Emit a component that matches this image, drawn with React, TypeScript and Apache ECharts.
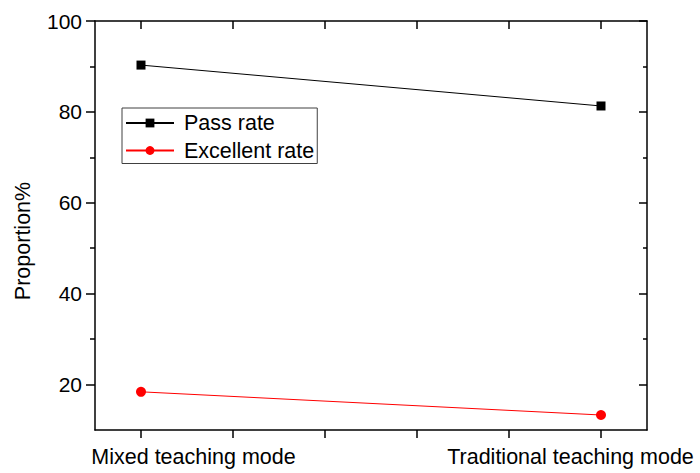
import React, { useEffect, useRef } from "react";
import * as echarts from "echarts";

const categories = ["Mixed teaching mode", "Traditional teaching mode"];
const xPositions = [1, 6];
const passRate = [90.3, 81.3];
const excellentRate = [18.4, 13.3];
const seriesNames = ["Pass rate", "Excellent rate"];
const yMajorTicks = [20, 40, 60, 80, 100];
const yMinorTicks = [30, 50, 70, 90];
const xTicks = [1, 2, 3, 4, 5, 6];
const yAxisTitle = "Proportion%";

const FONT = "'Liberation Sans', Arial, Helvetica, sans-serif";

export default function App() {
  const ref = useRef<HTMLDivElement>(null);
  useEffect(() => {
    if (!ref.current) return;
    const chart = echarts.init(ref.current, null, { renderer: "svg" });
    const lineColor = "#000";
    const axisLine = { show: true, onZero: false, lineStyle: { color: lineColor, width: 1.5 } };
    const yBase = { type: "value", min: 10, max: 100, gridIndex: 0, splitLine: { show: false } };
    const xBase = { type: "value", min: 0.5, max: 6.5, gridIndex: 0, splitLine: { show: false } };
    const option: any = {
      animation: false,
      backgroundColor: "#fff",
      grid: { left: 95, top: 21, width: 552, height: 409, containLabel: false },
      xAxis: [
        {
          ...xBase,
          position: "bottom",
          axisLine,
          axisTick: { show: true, inside: false, length: 8, customValues: xTicks, lineStyle: { color: lineColor, width: 1.5 } },
          axisLabel: {
            show: true,
            customValues: xPositions,
            margin: 16,
            formatter: (v: number) => {
              const i = xPositions.indexOf(v);
              if (i < 0) return "";
              return i === 0 ? `{a|${categories[i]}}` : `{b|${categories[i]}}`;
            },
            rich: {
              a: { fontSize: 21.5, fontFamily: FONT, color: "#000", padding: [0, 0, 0, 105] },
              b: { fontSize: 21.5, fontFamily: FONT, color: "#000", padding: [0, 61, 0, 0] },
            },
          },
        },
        {
          ...xBase,
          position: "top",
          axisLine,
          axisTick: { show: true, inside: true, length: 8, customValues: xTicks, lineStyle: { color: lineColor, width: 1.5 } },
          axisLabel: { show: false },
        },
      ],
      yAxis: [
        {
          ...yBase,
          position: "left",
          axisLine,
          axisTick: { show: true, inside: false, length: 9, customValues: yMajorTicks, lineStyle: { color: lineColor, width: 1.5 } },
          axisLabel: { show: true, customValues: yMajorTicks, margin: 13, fontSize: 21, fontFamily: FONT, color: "#000" },
        },
        {
          ...yBase,
          position: "left",
          axisLine: { show: false },
          axisTick: { show: true, inside: false, length: 5, customValues: yMinorTicks, lineStyle: { color: lineColor, width: 1.5 } },
          axisLabel: { show: false },
        },
        {
          ...yBase,
          position: "right",
          axisLine,
          axisTick: { show: true, inside: true, length: 8, customValues: yMajorTicks, lineStyle: { color: lineColor, width: 1.5 } },
          axisLabel: { show: false },
        },
        {
          ...yBase,
          position: "right",
          axisLine: { show: false },
          axisTick: { show: true, inside: true, length: 4, customValues: yMinorTicks, lineStyle: { color: lineColor, width: 1.5 } },
          axisLabel: { show: false },
        },
      ],
      legend: {
        orient: "vertical",
        left: 122,
        top: 108,
        padding: [4, 3, 2, 3],
        itemWidth: 48,
        itemHeight: 11,
        itemGap: 5.5,
        borderColor: "#404040",
        borderWidth: 1,
        backgroundColor: "#fff",
        textStyle: { fontSize: 21.5, fontFamily: FONT, color: "#000", padding: [0, 0, 0, 5] },
        data: seriesNames,
      },
      graphic: [
        {
          type: "text",
          x: 23,
          y: 241,
          rotation: Math.PI / 2,
          style: {
            text: yAxisTitle,
            align: "center",
            verticalAlign: "middle",
            fontSize: 21.5,
            fontFamily: FONT,
            fill: "#000",
          },
        },
      ],
      series: [
        {
          name: seriesNames[0],
          type: "line",
          xAxisIndex: 0,
          yAxisIndex: 0,
          data: xPositions.map((x, i) => [x, passRate[i]]),
          symbol: "rect",
          symbolSize: 9,
          itemStyle: { color: "#000" },
          lineStyle: { color: "#000", width: 1 },
        },
        {
          name: seriesNames[1],
          type: "line",
          xAxisIndex: 0,
          yAxisIndex: 0,
          data: xPositions.map((x, i) => [x, excellentRate[i]]),
          symbol: "circle",
          symbolSize: 10,
          itemStyle: { color: "#ff0000" },
          lineStyle: { color: "#ff0000", width: 1 },
        },
      ],
    };
    chart.setOption(option);
    return () => chart.dispose();
  }, []);
  return <div ref={ref} style={{ width: 700, height: 473, position: "absolute", left: 0, top: 0 }} />;
}
